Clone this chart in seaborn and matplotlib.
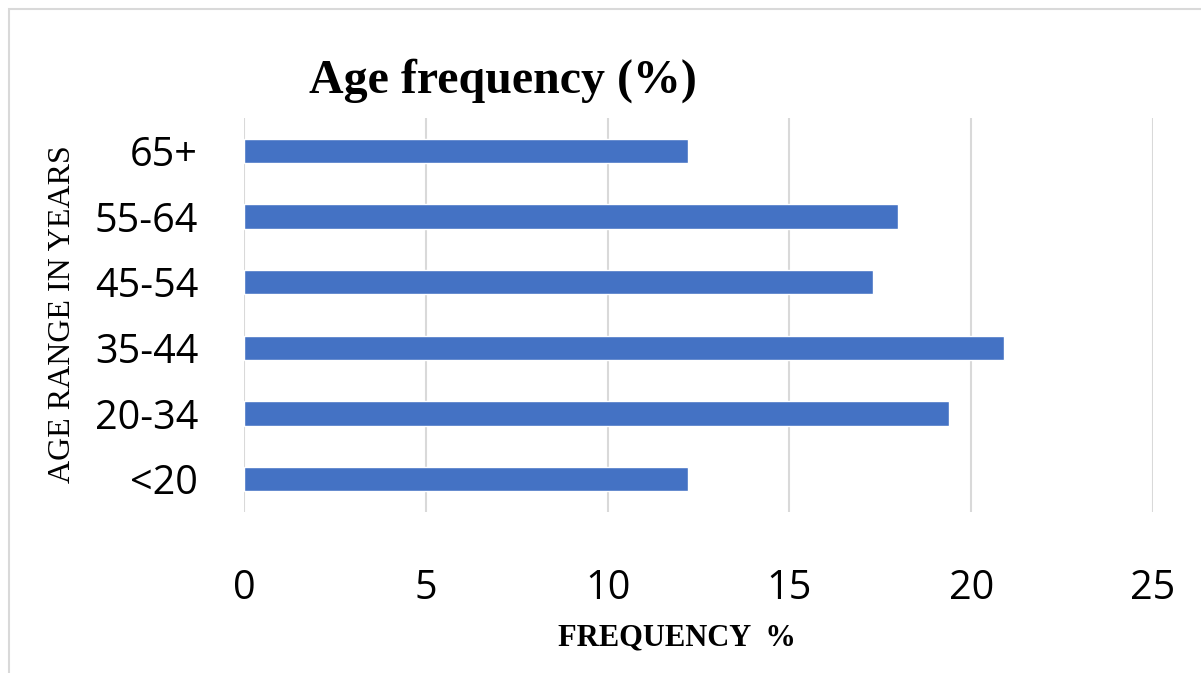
import matplotlib
matplotlib.use("Agg")
import matplotlib.pyplot as plt
import seaborn as sns
import pandas as pd
from matplotlib.patches import Rectangle

# data
age_groups = ["65+", "55-64", "45-54", "35-44", "20-34", "<20"]
frequency = [12.2, 18.0, 17.3, 20.9, 19.4, 12.2]
x_ticks = [0, 5, 10, 15, 20, 25]

df = pd.DataFrame({"age": age_groups, "freq": frequency})

sns.set_theme(style="white")
fig = plt.figure(figsize=(12.01, 6.73), dpi=100)
ax = fig.add_axes([244 / 1201, 1 - 512 / 673, (1153 - 244) / 1201, (512 - 118) / 673])

sns.barplot(data=df, x="freq", y="age", order=age_groups, orient="h",
            color="#4472C4", saturation=1, width=0.366, ax=ax)

ax.set_xlim(0, 25)
ax.set_xticks(x_ticks)
ax.set_xticklabels([str(t) for t in x_ticks], fontsize=28.5, family="Open Sans", color="black")
ax.set_yticklabels(age_groups, fontsize=28.5, family="Open Sans", color="black")
ax.tick_params(axis="x", length=0, pad=41)
ax.tick_params(axis="y", length=0, pad=33)
ax.xaxis.grid(True, color="#d9d9d9", linewidth=1.5)
ax.set_axisbelow(True)
sns.despine(ax=ax, left=True, bottom=True)
ax.set_xlabel("")
ax.set_ylabel("")

# chart border
fig.patches.append(Rectangle((9 / 1201, -0.05), 1.1, 1 - 9 / 673 + 0.05, transform=fig.transFigure,
                             fill=False, edgecolor="#d9d9d9", linewidth=1.5))

fig.text(503 / 1201, 1 - 81 / 673, "Age frequency (%)", ha="center", va="center",
         fontsize=34.5, fontweight="bold", family="Liberation Serif", color="black")
fig.text(63 / 1201, 1 - 314 / 673, "AGE RANGE IN YEARS", ha="center", va="center", rotation=90,
         fontsize=23, family="Liberation Serif", color="black")
fig.text(677 / 1201, 1 - 638 / 673, "FREQUENCY  %", ha="center", va="center",
         fontsize=22, fontweight="bold", family="Liberation Serif", color="black")

fig.savefig("out.png", dpi=100)
